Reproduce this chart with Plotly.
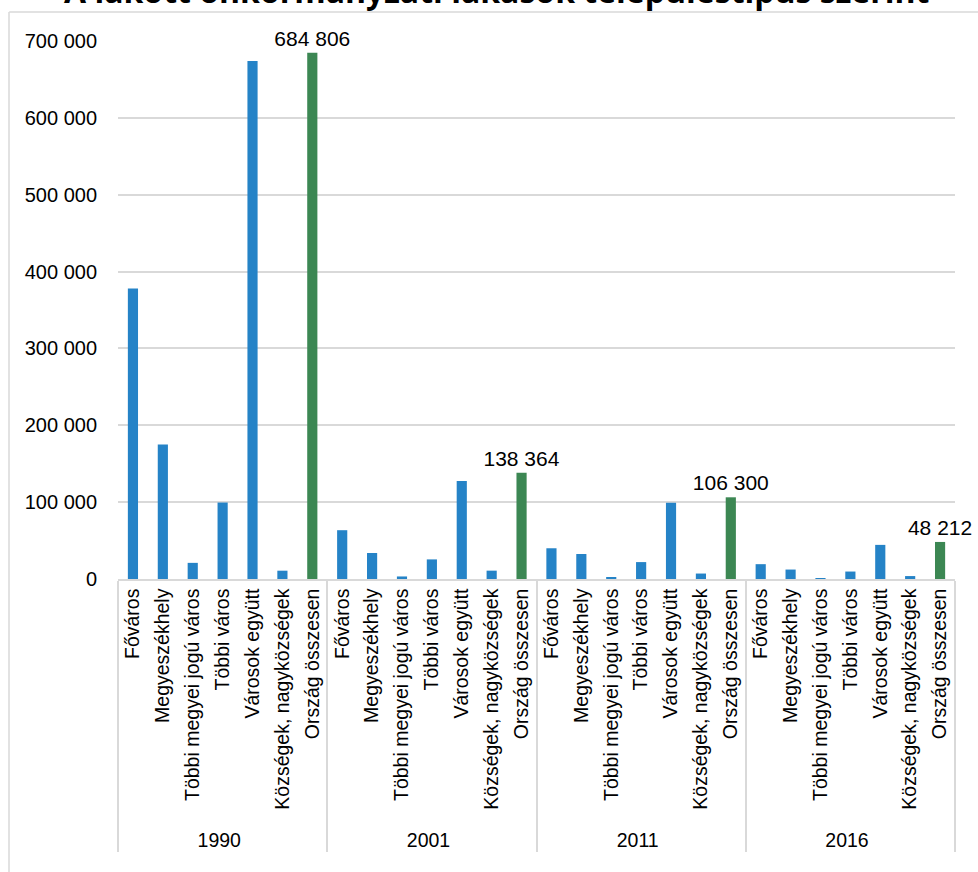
import plotly.graph_objects as go

years = ["1990", "2001", "2011", "2016"]
categories = ["Főváros", "Megyeszékhely", "Többi megyei jogú város", "Többi város",
              "Városok együtt", "Községek, nagyközségek", "Ország összesen"]
values = {
    "1990": [378000, 175000, 21000, 99500, 674000, 10806, 684806],
    "2001": [63500, 33800, 3300, 25500, 127500, 10864, 138364],
    "2011": [40000, 32500, 2600, 22000, 99200, 7100, 106300],
    "2016": [19300, 12300, 900, 9700, 44400, 3812, 48212],
}
total_label = "Ország összesen"
blue = "#2583C7"
green = "#3C8753"

xs_outer, xs_inner, ys, colors, texts = [], [], [], [], []
for yr in years:
    for cat, v in zip(categories, values[yr]):
        xs_outer.append(yr)
        xs_inner.append(cat)
        ys.append(v)
        colors.append(green if cat == total_label else blue)
        texts.append(f"{v:,}".replace(",", " ") if cat == total_label else "")

font_family = "Liberation Sans, Arial, sans-serif"

fig = go.Figure(go.Bar(
    x=[xs_outer, xs_inner], y=ys,
    marker=dict(color=colors, line=dict(width=0)),
    text=texts, textposition="outside", cliponaxis=False, constraintext="none",
    textfont=dict(size=21, color="#000000", family=font_family),
))

fig.update_layout(
    width=978, height=872,
    margin=dict(l=118, r=23, t=41, b=293),
    paper_bgcolor="white", plot_bgcolor="white",
    separators=", ",
    bargap=0.66,
    showlegend=False,
    font=dict(family=font_family, size=19.5, color="#000000"),
)
fig.update_yaxes(
    range=[0, 700000], tickvals=[0, 100000, 200000, 300000, 400000, 500000, 600000, 700000],
    tickformat=",d", showgrid=True, gridcolor="#d9d9d9", gridwidth=1.5,
    zeroline=False, showline=False, ticks="", ticklabelstandoff=20,
    tickfont=dict(size=20, family=font_family),
)
fig.update_xaxes(
    type="multicategory", tickangle=-90, showline=True, linecolor="#d9d9d9", linewidth=1.5,
    showdividers=True, dividercolor="#d9d9d9", dividerwidth=1.5,
    ticks="", automargin=False, tickfont=dict(size=19.5, family=font_family),
)

# outer chart frame
fig.add_shape(type="line", xref="paper", yref="paper", x0=-0.13, x1=1.05,
              y0=1 + 29 / 538, y1=1 + 29 / 538, line=dict(color="#d9d9d9", width=1.5))
fig.add_shape(type="line", xref="paper", yref="paper", x0=-109 / 837, x1=-109 / 837,
              y0=1 + 29 / 538, y1=-0.6, line=dict(color="#d9d9d9", width=1.5))

fig.add_annotation(
    text="<b>A lakott önkormányzati lakások településtípus szerint</b>",
    xref="paper", yref="paper", x=0.452, y=1 + 27 / 538, xanchor="center", yanchor="bottom",
    showarrow=False, font=dict(size=32, family="Open Sans, sans-serif", color="#000000"),
)

fig.write_html("out.html")
